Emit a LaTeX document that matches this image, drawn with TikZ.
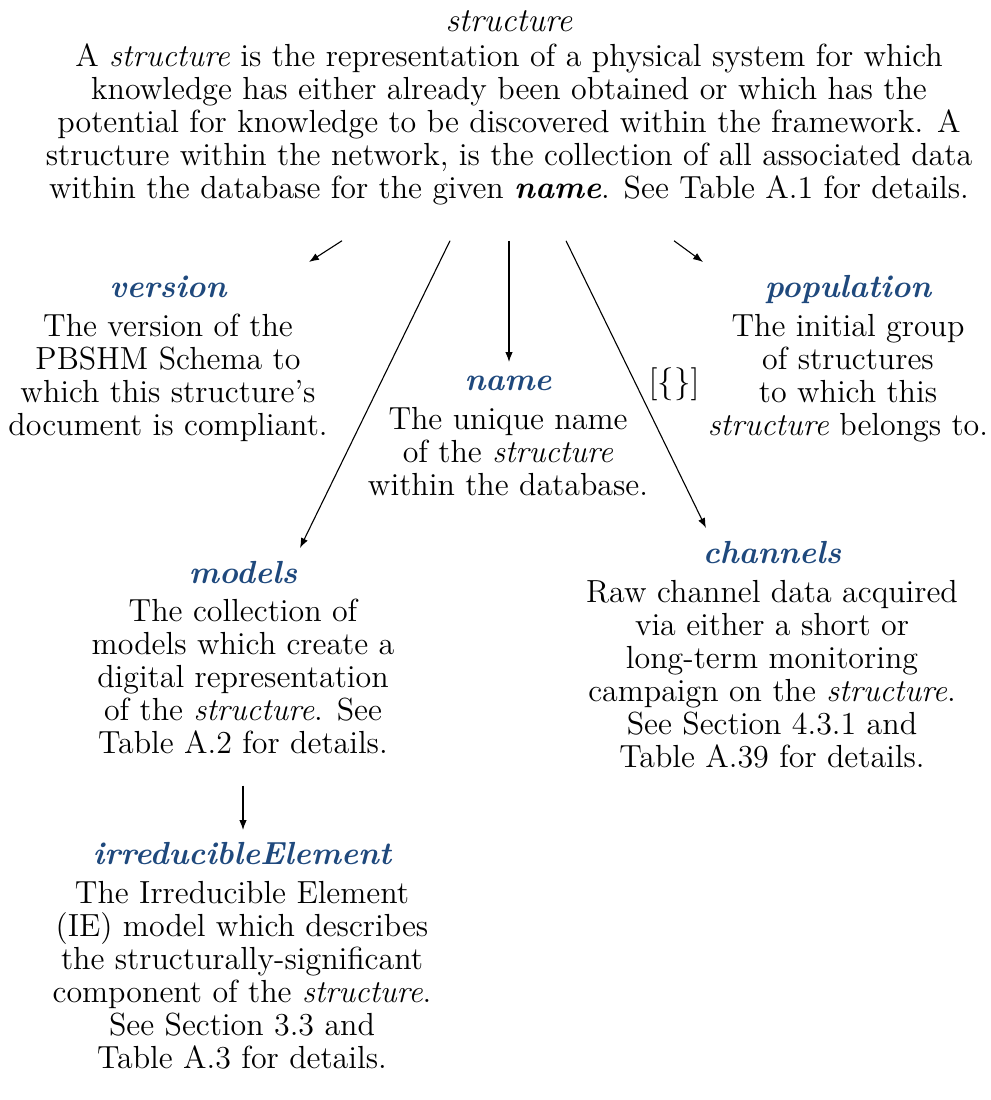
\documentclass[tikz,border=0pt]{standalone}
\usetikzlibrary{arrows.meta}
\definecolor{headblue}{RGB}{31,73,125}
\newcommand\bodysize{\fontsize{11.62}{12}\selectfont}
\newcommand\hd[1]{{\strut\textbf{\textit{\color{headblue}#1}}}\\[2pt]}
\tikzset{
  x=0.363636pt, y=-0.363636pt,
  box/.style={align=center, inner sep=0pt, outer sep=0pt, anchor=north, font=\bodysize},
  arr/.style={-{Latex[length=3.6pt,width=2.7pt]}, line width=0.4pt},
}
\begin{document}
\begin{tikzpicture}
\useasboundingbox (0,0) rectangle (990,1100);
\node[box] (struct) at (509,8) {{\fontsize{12.2}{12}\selectfont\strut\textit{structure}}\\[1pt]
A \textit{structure} is the representation of a physical system for which\\
knowledge has either already been obtained or which has the\\
potential for knowledge to be discovered within the framework. A\\
structure within the network, is the collection of all associated data\\
within the database for the given \textbf{\textit{name}}. See Table A.1 for details.\strut};

\node[box] (version) at (168,274.5) {\hd{version}
The version of the\\
PBSHM Schema to\\
which this structure's\\
document is compliant.};

\node[box] (population) at (848,274.5) {\hd{population}
The initial group\\
of structures\\
to which this\\
\textit{structure} belongs to.};

\node[box] (name) at (508,367.5) {\hd{name}
The unique name\\
of the \textit{structure}\\
within the database.};

\node[box] (models) at (243,560) {\hd{models}
The collection of\\
models which create a\\
digital representation\\
of the \textit{structure}. See\\
Table A.2 for details.\strut};

\node[box] (channels) at (772,540.5) {\hd{channels}
Raw channel data acquired\\
via either a short or\\
long-term monitoring\\
campaign on the \textit{structure}.\\
See Section 4.3.1 and\\
Table A.39 for details.};

\node[box] (ie) at (242,841.5) {\hd{irreducibleElement}
The Irreducible Element\\
(IE) model which describes\\
the structurally-significant\\
component of the \textit{structure}.\\
See Section 3.3 and\\
Table A.3 for details.};

\draw[arr] ([shift={(-167,32)}]struct.south) -- ([shift={(141,-12.5)}]version.north);
\draw[arr] ([shift={(-59,32)}]struct.south) -- ([shift={(57,-12)}]models.north);
\draw[arr] ([shift={(0,32)}]struct.south) -- ([shift={(1,-5.5)}]name.north);
\draw[arr] ([shift={(57,32)}]struct.south) -- node[pos=0.5, anchor=west, inner sep=0pt, xshift=4.4pt, font=\bodysize] (lbl) {$[\{\}]$} ([shift={(-66,-12.5)}]channels.north);
\draw[arr] ([shift={(165,32)}]struct.south) -- ([shift={(-145,-12.5)}]population.north);
\draw[arr] ([shift={(0,22)}]models.south) -- ([shift={(1,-11.5)}]ie.north);
\end{tikzpicture}
\end{document}
